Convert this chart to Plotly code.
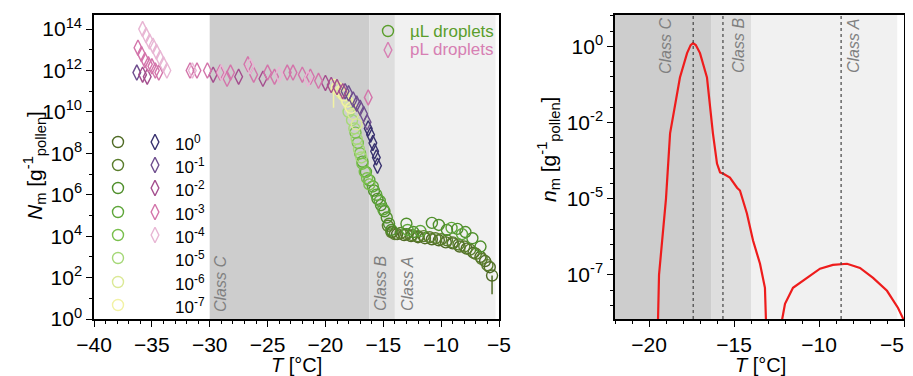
import numpy as np
import plotly.graph_objects as go

# ---------------- data: left panel (log10 N_m vs T) ----------------
dilution_labels = ["10<sup>0</sup>", "10<sup>-1</sup>", "10<sup>-2</sup>", "10<sup>-3</sup>",
                   "10<sup>-4</sup>", "10<sup>-5</sup>", "10<sup>-6</sup>", "10<sup>-7</sup>"]

circle_colors = ["#4f6b25", "#5a7d2c", "#4f8f2b", "#5ea63a", "#79bf4c", "#a6d878", "#dbe996", "#f2f2a4"]
diamond_colors = ["#37306e", "#6e4d8e", "#a44e8e", "#d374aa", "#e8b6d4"]

# uL droplets (circles), one list per dilution 10^0 ... 10^-7
uL_T = [
    [-14.2, -13.8, -13.2, -12.6, -12.0, -11.4, -10.8, -10.2, -9.6, -9.0, -8.4, -7.8, -7.2, -6.6, -6.2, -5.8, -5.6],
    [-14.6, -14.3, -14.0, -13.5, -13.0, -12.5, -12.0, -11.5, -11.0, -10.5, -10.0, -9.5, -9.0, -8.5, -8.0, -7.5, -7.0, -6.5, -6.0],
    [-15.8, -15.5, -15.2, -14.9, -14.7, -14.5, -14.3, -13.0, -12.4, -10.8, -10.2, -9.5, -8.6, -7.9, -7.3, -6.6],
    [-16.8, -16.5, -16.2, -15.9, -15.6, -15.3, -15.0, -12.9, -11.8, -9.1, -8.2],
    [-17.4, -17.2, -17.0, -16.8, -16.6, -16.4, -16.2],
    [-18.0, -17.7, -17.5, -17.3, -17.1, -16.9],
    [-19.0, -18.6, -18.2, -17.9, -17.6, -17.3],
    [-19.3, -19.0, -18.7, -18.4, -18.1, -17.8],
]
uL_logN = [
    [4.2, 4.1, 4.05, 4.0, 3.95, 3.9, 3.85, 3.8, 3.7, 3.65, 3.5, 3.4, 3.2, 3.0, 2.8, 2.5, 2.1],
    [4.5, 4.2, 4.1, 4.15, 4.1, 4.05, 4.0, 4.0, 3.95, 3.9, 3.85, 3.8, 3.7, 3.6, 3.5, 3.35, 3.15, 2.9, 2.6],
    [6.2, 5.8, 5.5, 5.2, 4.9, 4.6, 4.3, 4.6, 4.2, 4.64, 4.54, 4.3, 4.35, 4.2, 3.9, 3.5],
    [7.6, 7.1, 6.7, 6.4, 6.0, 5.7, 5.3, 4.3, 4.25, 4.4, 4.1],
    [9.0, 8.5, 8.0, 7.5, 7.1, 6.8, 6.5],
    [10.0, 9.6, 9.2, 8.7, 8.2, 7.8],
    [11.1, 10.9, 10.6, 10.3, 9.9, 9.4],
    [11.3, 11.2, 11.0, 10.8, 10.5, 10.2],
]
# lower error (in decades) on a couple of points
uL_err = [
    [0] * 16 + [0.9],
    None, None, None, None, None, None,
    [1.1, 0, 0, 0, 0, 0],
]

# pL droplets (diamonds), dilution 10^0 ... 10^-4
pL_T = [
    [-16.3, -16.1, -15.9, -15.75, -15.6, -15.5],
    [-36.3, -18.3, -18.0, -17.6, -17.3, -17.0, -16.7, -16.4],
    [-35.8, -35.4, -29.7, -27.5, -25.4, -20.0, -19.5, -19.0, -18.5],
    [-36.2, -35.9, -35.6, -35.3, -35.0, -34.7, -34.4, -31.7, -31.1, -30.2, -29.1, -28.5, -28.2, -26.7,
     -26.2, -25.0, -24.4, -23.3, -22.8, -22.0, -21.3, -20.6, -16.3],
    [-35.8, -35.5, -35.2, -34.9, -34.6, -34.3, -34.0, -33.7, -31.5, -29.0, -26.5, -24.0, -21.5],
]
pL_logN = [
    [9.2, 8.9, 8.5, 8.1, 7.8, 7.4],
    [11.9, 11.0, 10.9, 10.6, 10.4, 10.2, 9.9, 9.5],
    [11.8, 11.7, 11.8, 11.7, 11.6, 11.4, 11.3, 11.2, 11.0],
    [13.1, 12.8, 12.5, 12.3, 12.2, 12.0, 11.9, 12.0, 12.0, 12.0, 11.9, 11.6, 11.9, 12.3,
     11.8, 11.9, 11.7, 11.9, 11.9, 11.8, 11.7, 11.5, 10.7],
    [14.0, 13.7, 13.4, 13.2, 12.9, 12.6, 12.3, 12.0, 12.0, 11.9, 12.2, 11.8, 11.6],
]

# ---------------- data: right panel (log10 n_m vs T) ----------------
curve1_T = [-19.47, -19.41, -19.0, -18.76, -18.18, -17.76, -17.55, -17.41, -17.25, -17.0, -16.59,
            -16.24, -16.0, -15.82, -15.65, -15.24, -14.82, -14.65, -14.24, -13.88, -13.47, -13.18, -13.12]
curve1_log = [-8.2, -7.0, -5.0, -2.43, -0.82, -0.18, 0.03, 0.08, 0.03, -0.18, -0.82,
              -2.43, -3.62, -3.97, -4.01, -4.17, -4.57, -4.68, -5.39, -6.1, -6.71, -7.34, -8.2]
curve2_T = [-12.18, -12.0, -11.53, -10.71, -9.94, -9.18, -8.35, -7.59, -6.82, -6.0, -5.35, -5.0]
curve2_log = [-8.2, -7.76, -7.34, -7.08, -6.84, -6.74, -6.71, -6.82, -7.08, -7.42, -7.87, -8.2]

right_tick_labels = ["10<sup>0</sup>", "10<sup>-2</sup>", "10<sup>-5</sup>", "10<sup>-7</sup>"]
right_x_ticks = [-20, -15, -10, -5]
right_x_labels = ["\u221220", "\u221215", "\u221210", "\u22125"]
# the right axis is non-uniform: label exponents at evenly spaced positions
axis_log_breaks = [-9, -7, -5, -2, 0, 2]
axis_pos_breaks = [-4, -3, -2, -1, 0, 1]

class_lines_T = [-17.4, -15.65, -8.7]

# ---------------- layout helpers (page has an 8px body margin) ----------------
OFF = 8
W, H = 913 - 2 * OFF, 376 - OFF
def fx(p): return (p - OFF) / W
def fy(p): return 1 - (p - OFF) / H

FONT = "Arial, Liberation Sans, sans-serif"
L_X0, L_X1, R_X0, R_X1, Y_TOP, Y_BOT = 94, 499, 615, 904, 15, 319

fig = go.Figure()

# left panel data
for i in range(8):
    err = uL_err[i]
    ey = None
    if err is not None:
        ey = dict(type="data", symmetric=False,
                  array=[0] * len(err),
                  arrayminus=[10 ** v - 10 ** (v - e) for v, e in zip(uL_logN[i], err)],
                  color=circle_colors[i], thickness=1.5, width=0)
    fig.add_trace(go.Scatter(
        x=uL_T[i], y=[10 ** v for v in uL_logN[i]], mode="markers",
        marker=dict(symbol="circle-open", size=11, color=circle_colors[i], line=dict(width=1.4)),
        error_y=ey, xaxis="x", yaxis="y", showlegend=False))
for i in range(5):
    fig.add_trace(go.Scatter(
        x=pL_T[i], y=[10 ** v for v in pL_logN[i]], mode="markers",
        marker=dict(symbol="diamond-tall-open", size=11, color=diamond_colors[i], line=dict(width=1.4)),
        xaxis="x", yaxis="y", showlegend=False))

# right panel curves
for T, lg in [(curve1_T, curve1_log), (curve2_T, curve2_log)]:
    fig.add_trace(go.Scatter(
        x=T, y=np.interp(lg, axis_log_breaks, axis_pos_breaks), mode="lines",
        line=dict(color="#ee1c1c", width=2.2), xaxis="x2", yaxis="y2", showlegend=False))

# custom legends (overlay axes in fraction units)
row_px = [142, 165, 188, 212, 235, 258, 282, 305]
leg_rows = [(Y_BOT - y) / (Y_BOT - Y_TOP) for y in row_px]
cx, dx = (118 - L_X0) / (L_X1 - L_X0), (155 - L_X0) / (L_X1 - L_X0)
fig.add_trace(go.Scatter(x=[cx] * 8, y=leg_rows, mode="markers",
                         marker=dict(symbol="circle-open", size=11, color=circle_colors, line=dict(width=1.4)),
                         xaxis="x3", yaxis="y3", showlegend=False))
fig.add_trace(go.Scatter(x=[dx] * 5, y=leg_rows[:5], mode="markers",
                         marker=dict(symbol="diamond-tall-open", size=11, color=diamond_colors, line=dict(width=1.4)),
                         xaxis="x3", yaxis="y3", showlegend=False))
top_leg_x = (388 - L_X0) / (L_X1 - L_X0)
fig.add_trace(go.Scatter(x=[top_leg_x], y=[(Y_BOT - 31) / (Y_BOT - Y_TOP)], mode="markers",
                         marker=dict(symbol="circle-open", size=11, color="#5a9e2c", line=dict(width=1.4)),
                         xaxis="x3", yaxis="y3", showlegend=False))
fig.add_trace(go.Scatter(x=[top_leg_x], y=[(Y_BOT - 50) / (Y_BOT - Y_TOP)], mode="markers",
                         marker=dict(symbol="diamond-tall-open", size=11, color="#d77fb3", line=dict(width=1.4)),
                         xaxis="x3", yaxis="y3", showlegend=False))

annotations = []
for lab, yr in zip(dilution_labels, row_px):
    annotations.append(dict(text=lab, x=fx(173), y=fy(yr + 1), xref="paper", yref="paper",
                            xanchor="left", yanchor="middle", showarrow=False,
                            font=dict(family=FONT, size=17, color="black")))
annotations += [
    dict(text="µL droplets", x=fx(408), y=fy(31), xref="paper", yref="paper", xanchor="left",
         yanchor="middle", showarrow=False, font=dict(family=FONT, size=17, color="#5a9e2c")),
    dict(text="pL droplets", x=fx(408), y=fy(50), xref="paper", yref="paper", xanchor="left",
         yanchor="middle", showarrow=False, font=dict(family=FONT, size=17, color="#d77fb3")),
]
# class labels
for txt, xp, yp in [("Class C", 220, 284), ("Class B", 380, 284), ("Class A", 407, 284),
                    ("Class C", 665, 46), ("Class B", 738, 46), ("Class A", 853, 46)]:
    annotations.append(dict(text="<i>" + txt + "</i>", x=fx(xp), y=fy(yp), xref="paper", yref="paper",
                            textangle=-90, showarrow=False, xanchor="center", yanchor="middle",
                            font=dict(family=FONT, size=16, color="#808080")))
# axis titles
annotations += [
    dict(text="<i>N</i><sub>m</sub> [g<sup>-1</sup><sub>pollen</sub>]", x=fx(34), y=fy(166),
         xref="paper", yref="paper", textangle=-90, showarrow=False, xanchor="center", yanchor="middle",
         font=dict(family=FONT, size=21, color="black")),
    dict(text="<i>n</i><sub>m</sub> [g<sup>-1</sup><sub>pollen</sub>]", x=fx(548), y=fy(150),
         xref="paper", yref="paper", textangle=-90, showarrow=False, xanchor="center", yanchor="middle",
         font=dict(family=FONT, size=21, color="black")),
    dict(text="<i>T</i> [°C]", x=fx(296), y=fy(365), xref="paper", yref="paper", showarrow=False,
         xanchor="center", yanchor="middle", font=dict(family=FONT, size=20, color="black")),
    dict(text="<i>T</i> [°C]", x=fx(760), y=fy(365), xref="paper", yref="paper", showarrow=False,
         xanchor="center", yanchor="middle", font=dict(family=FONT, size=20, color="black")),
    # last right-axis tick label, kept inside the window edge
    dict(text=right_x_labels[-1], x=1.0, y=fy(344), xref="paper", yref="paper", showarrow=False,
         xanchor="right", yanchor="middle", borderpad=0, font=dict(family=FONT, size=21, color="black")),
]

shapes = []
for x0, x1, col in [(-30, -16.2, "#cdcdcd"), (-16.2, -14.0, "#dedede"), (-14.0, -5.3, "#f1f1f1")]:
    shapes.append(dict(type="rect", xref="x", yref="y domain", x0=x0, x1=x1, y0=0, y1=1,
                       fillcolor=col, line=dict(width=0), layer="below"))
for x0, x1, col in [(-22, -16.35, "#cdcdcd"), (-16.35, -14.0, "#dedede"), (-14.0, -5.4, "#f1f1f1")]:
    shapes.append(dict(type="rect", xref="x2", yref="y2 domain", x0=x0, x1=x1, y0=0, y1=1,
                       fillcolor=col, line=dict(width=0), layer="below"))
for t in class_lines_T:
    shapes.append(dict(type="line", xref="x2", yref="y2 domain", x0=t, x1=t, y0=0, y1=1,
                       line=dict(color="#444444", width=1.2, dash="dot")))

tickfont = dict(family=FONT, size=21, color="black")
common = dict(showgrid=False, zeroline=False, showline=True, linecolor="black", linewidth=1.5,
              mirror=True, ticks="outside", ticklen=6, tickwidth=1.3, tickcolor="black",
              tickfont=tickfont, automargin=False)
minor_style = dict(ticks="outside", ticklen=3.5, tickcolor="black", tickwidth=1.2)

log_major = list(range(0, 15, 2))
fig.update_layout(
    width=W, height=H, margin=dict(l=0, r=0, t=0, b=0),
    paper_bgcolor="white", plot_bgcolor="white",
    xaxis=dict(domain=[fx(L_X0), fx(L_X1)], range=[-40, -5], anchor="y",
               tickvals=list(range(-40, -4, 5)),
               minor=dict(dtick=1, **minor_style), **common),
    yaxis=dict(domain=[fy(Y_BOT), fy(Y_TOP)], type="log", range=[0, 14.68], anchor="x",
               tickvals=[10 ** k for k in log_major],
               ticktext=["10<sup>%d</sup>" % k for k in log_major],
               minor=dict(tickvals=[10 ** k for k in range(1, 15, 2)], **minor_style),
               **common),
    xaxis2=dict(domain=[fx(R_X0), min(1.0, fx(R_X1))], range=[-22, -5], anchor="y2",
                tickvals=right_x_ticks, ticktext=right_x_labels[:-1] + [""],
                minor=dict(dtick=1, tick0=0, **minor_style), **common),
    yaxis2=dict(domain=[fy(Y_BOT), fy(Y_TOP)], range=[-3.58, 0.41], anchor="x2",
                tickvals=[0, -1, -2, -3], ticktext=right_tick_labels,
                minor=dict(dtick=0.2, tick0=0, **minor_style), **common),
    xaxis3=dict(domain=[fx(L_X0), fx(L_X1)], range=[0, 1], overlaying="x", anchor="y3", visible=False),
    yaxis3=dict(domain=[fy(Y_BOT), fy(Y_TOP)], range=[0, 1], overlaying="y", anchor="x3", visible=False),
    annotations=annotations, shapes=shapes,
)

fig.write_html("out.html")
